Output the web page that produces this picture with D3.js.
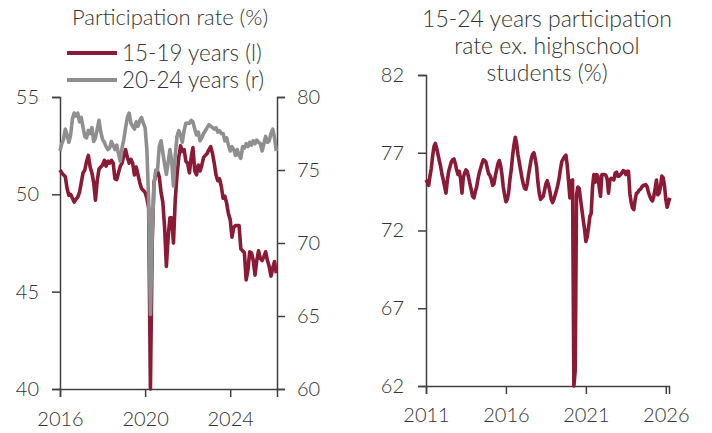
<!DOCTYPE html>
<html>
<head>
<meta charset="utf-8">
<script src="https://cdn.jsdelivr.net/npm/d3@7"></script>
<style>
  body { margin: 0; background: #fff; }
  svg { display: block; font-family: Lato, "Open Sans", sans-serif; font-weight: 300; }
  .axis path, .axis line { stroke: #404040; stroke-width: 1.5; }
  .axis text { fill: #333; font-size: 20px; font-family: Lato, sans-serif; font-weight: 300; }
  .title { fill: #333; font-size: 22px; }
</style>
</head>
<body>
<div id="chart"></div>
<script>
// ---- data (monthly) ----
// left panel: Jan 2016 .. Mar 2026
const leftStart = 2016;
const teen = [ // 15-19 years, left axis
  51.25, 51.1, 51.0, 50.9, 50.3, 49.95, 50.0, 49.8, 49.6, 49.75, 49.85, 50.1,
  50.6, 51.1, 51.25, 51.7, 52.0, 51.4, 51.1, 50.6, 49.7, 50.7, 51.3, 51.4,
  51.5, 51.75, 51.45, 51.7, 51.6, 51.75, 51.6, 50.8, 50.75, 51.1, 51.45, 51.6,
  52.0, 52.3, 51.9, 51.6, 51.8, 51.6, 51.0, 51.4, 51.0, 50.6, 50.3, 50.2,
  50.1, 49.8, 49.3, 40.0, 47.5, 50.6, 51.0, 51.2, 50.9, 50.1, 49.6, 48.3,
  46.3, 47.8, 48.8, 48.8, 47.5, 49.7, 51.0, 51.9, 52.5, 52.2, 52.3, 51.7,
  51.6, 51.1, 51.9, 52.4, 51.2, 51.0, 51.5, 51.2, 51.5, 51.9, 52.0, 52.1,
  52.3, 52.45, 52.1, 51.6, 51.0, 50.7, 50.8, 50.4, 49.8, 49.9, 49.55, 49.0,
  48.7, 47.8, 48.3, 48.4, 48.4, 48.4, 47.2, 47.1, 47.0, 45.6, 46.1, 47.05,
  47.0, 46.6, 45.85, 46.6, 47.1, 46.7, 46.6, 46.8, 47.05, 46.6, 46.3, 45.8,
  46.2, 46.55, 45.95
];
const young = [ // 20-24 years, right axis
  76.3, 76.8, 77.1, 77.8, 77.4, 76.9, 77.4, 78.5, 78.9, 78.7, 78.9, 78.3,
  78.6, 77.9, 77.3, 77.2, 77.7, 77.5, 77.9, 76.95, 77.2, 77.8, 78.4, 77.6,
  77.1, 76.9, 76.6, 76.4, 76.5, 76.95, 76.7, 76.4, 76.7, 76.1, 75.6, 76.5,
  77.1, 77.9, 78.6, 78.9, 78.2, 78.0, 77.8, 78.3, 78.0, 78.4, 78.6, 78.2,
  77.9, 76.4, 72.9, 65.1, 70.5, 74.0, 75.0, 75.0, 76.6, 77.0, 76.2, 75.4,
  74.7, 75.5, 76.4, 75.6, 73.9, 76.0, 77.3, 77.7, 77.4, 76.9, 77.7, 78.2,
  78.2, 78.2, 78.4, 78.3, 77.8, 77.4, 77.6, 77.0, 77.2, 77.5, 77.7, 77.9,
  78.1, 78.0, 77.9, 77.8, 77.9, 77.6, 77.7, 77.5, 77.5, 77.0, 77.2, 76.7,
  76.3, 76.6, 76.4, 76.0, 76.4, 76.0, 75.8, 76.6, 76.5, 76.8, 76.6, 76.9,
  76.7, 77.0, 76.8, 77.05, 76.9, 76.8, 76.3, 76.8, 77.3, 76.9, 77.0, 77.5,
  77.8, 77.2, 76.3
];
// right panel: Jan 2011 .. Apr 2026
const rightStart = 2011;
const exSchool = [
  75.25, 75.1, 74.9, 75.5, 76.0, 76.8, 77.4, 77.6, 77.3, 76.9, 76.5, 76.1,
  75.6, 75.25, 74.8, 74.4, 75.2, 75.8, 76.1, 76.4, 76.55, 76.6, 76.3, 75.9,
  75.6, 75.8, 75.3, 74.4, 75.4, 75.7, 75.9, 75.8, 75.4, 75.0, 74.6, 74.2,
  74.1, 74.5, 74.8, 75.3, 75.7, 76.0, 76.3, 76.55, 76.5, 76.4, 76.0, 75.65,
  75.55, 75.3, 74.9, 75.0, 75.5, 75.9, 76.3, 76.5, 76.2, 75.6, 74.8, 74.3,
  73.85, 74.0, 74.4, 75.3, 75.9, 76.8, 77.5, 78.0, 77.6, 76.9, 76.4, 75.9,
  75.4, 75.0, 74.7, 74.65, 75.0, 75.6, 76.1, 76.6, 76.9, 77.0, 76.6, 76.1,
  75.1, 74.4, 74.0, 74.1, 74.2, 74.6, 75.0, 75.2, 74.9, 74.5, 74.0, 73.8,
  74.0, 74.3, 74.6, 74.95, 75.4, 76.0, 76.45, 76.6, 76.75, 76.85, 76.2, 75.2,
  74.1, 75.2, 75.25, 62.0, 63.0, 74.3, 74.8, 74.7, 74.0, 73.35, 72.7, 72.1,
  71.3, 71.6, 72.2, 72.9, 73.1, 74.8, 75.6, 75.1, 75.6, 75.5, 74.8, 74.2,
  75.6, 75.6, 75.6, 75.55, 75.3, 74.4, 75.25, 75.35, 75.3, 75.25, 75.7, 75.75,
  75.5, 75.5, 75.6, 75.7, 75.85, 75.8, 75.6, 75.8, 75.8, 74.4, 73.8, 73.45,
  73.35, 74.0, 74.4, 74.45, 74.6, 74.65, 74.8, 74.9, 74.9, 74.95, 74.8, 74.45,
  74.2, 74.0, 73.9, 74.2, 74.7, 75.25, 74.3, 74.4, 74.8, 75.5, 75.4, 74.9,
  74.0, 73.5, 73.8, 74.1
];
const leftTicksX = [2016, 2020, 2024];
const leftTicksY = [40, 45, 50, 55];
const rightAxisTicks = [60, 65, 70, 75, 80];
const rightTicksX = [2011, 2016, 2021, 2026];
const rightTicksY = [62, 67, 72, 77, 82];
const seriesNames = ["15-19 years (l)", "20-24 years (r)"];
const colors = ["#8a1a36", "#8f8f8f"];

// ---- svg ----
const W = 712, H = 433;
const svg = d3.select("#chart").append("svg")
  .attr("width", W)
  .attr("height", H);

//Turn a monthly array into [year fraction, value] pairs
const monthly = (start, arr) => arr.map((v, i) => [start + i / 12, v]);

// ===== left panel =====
const xL = d3.scaleLinear().domain([2016, 2026.2]).range([60, 277]);
const yL = d3.scaleLinear().domain([40, 55]).range([389, 97]);
const yR = d3.scaleLinear().domain([60, 80]).range([389, 97]);

svg.append("g")
  .attr("class", "axis")
  .attr("transform", "translate(0,389)")
  .call(d3.axisBottom(xL).tickValues(leftTicksX).tickFormat(d3.format("d")).tickSizeOuter(0).tickSize(8).tickPadding(15));
svg.append("g")
  .attr("class", "axis")
  .attr("transform", "translate(60,0)")
  .call(d3.axisLeft(yL).tickValues(leftTicksY).tickSizeOuter(0).tickSize(8).tickPadding(13));
svg.append("g")
  .attr("class", "axis")
  .attr("transform", "translate(277,0)")
  .call(d3.axisRight(yR).tickValues(rightAxisTicks).tickSizeOuter(0).tickSize(8).tickPadding(12));

const lineL = d3.line().x(d => xL(d[0])).y(d => yL(d[1]));
const lineR = d3.line().x(d => xL(d[0])).y(d => yR(d[1]));

svg.append("path")
  .datum(monthly(leftStart, teen))
  .attr("d", lineL)
  .attr("fill", "none")
  .attr("stroke", colors[0])
  .attr("stroke-width", 3.6)
  .attr("stroke-linejoin", "round");
svg.append("path")
  .datum(monthly(leftStart, young))
  .attr("d", lineR)
  .attr("fill", "none")
  .attr("stroke", colors[1])
  .attr("stroke-width", 3.6)
  .attr("stroke-linejoin", "round");

svg.append("text")
  .attr("class", "title")
  .attr("x", 170)
  .attr("y", 25)
  .attr("text-anchor", "middle")
  .text("Participation rate (%)");

//Legend
const leg = svg.selectAll(".leg")
  .data(seriesNames)
  .enter()
  .append("g")
  .attr("class", "leg")
  .attr("transform", (_, i) => "translate(67," + (53 + i * 27) + ")");
leg.append("line")
  .attr("x1", 0).attr("x2", 50)
  .attr("stroke", (d, i) => colors[i])
  .attr("stroke-width", 4);
leg.append("text")
  .attr("x", 55)
  .attr("y", 7.5)
  .attr("fill", "#333")
  .style("font-size", "22.5px")
  .text(d => d);

// ===== right panel =====
const x2 = d3.scaleLinear().domain([2011, 2026.2]).range([426, 669]);
const y2 = d3.scaleLinear().domain([62, 82]).range([386, 75]);

svg.append("g")
  .attr("class", "axis")
  .attr("transform", "translate(0,386)")
  .call(d3.axisBottom(x2).tickValues(rightTicksX).tickFormat(d3.format("d")).tickSizeOuter(0).tickSize(8).tickPadding(14));
svg.append("g")
  .attr("class", "axis")
  .attr("transform", "translate(426,0)")
  .call(d3.axisLeft(y2).tickValues(rightTicksY).tickSizeOuter(0).tickSize(8).tickPadding(14));

svg.append("path")
  .datum(monthly(rightStart, exSchool))
  .attr("d", d3.line().x(d => x2(d[0])).y(d => y2(d[1])))
  .attr("fill", "none")
  .attr("stroke", colors[0])
  .attr("stroke-width", 3.6)
  .attr("stroke-linejoin", "round");

svg.append("text")
  .attr("class", "title")
  .attr("text-anchor", "middle")
  .style("font-size", "23px")
  .selectAll("tspan")
  .data(["15-24 years participation", "rate ex. highschool", "students (%)"])
  .join("tspan")
  .attr("x", 547)
  .attr("y", (d, i) => 27 + i * 27)
  .text(d => d);
</script>
</body>
</html>
